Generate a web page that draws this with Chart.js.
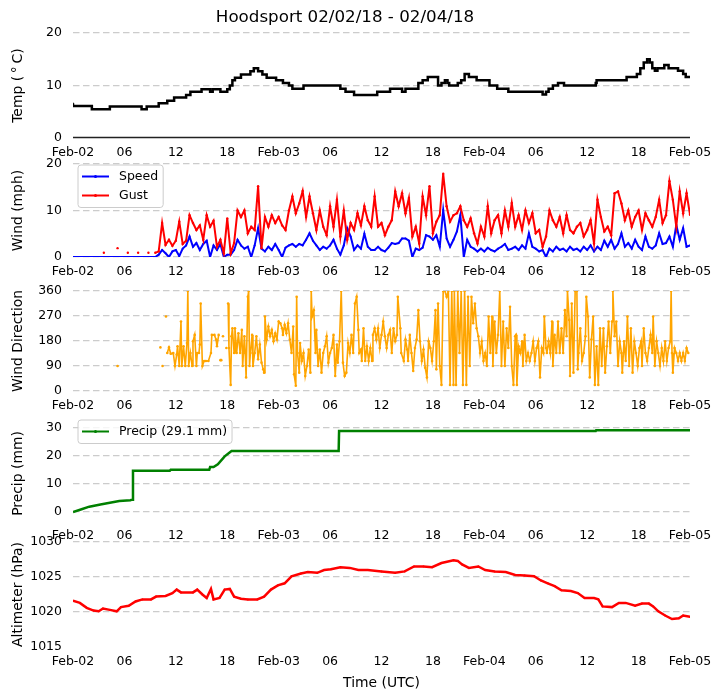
<!DOCTYPE html>
<html>
<head>
<meta charset="utf-8">
<script src="https://cdn.jsdelivr.net/npm/chart.js@4.4.1/dist/chart.umd.min.js"></script>
<style>
  body { margin: 0; background: #fff; }
  #wrap { position: relative; width: 722px; height: 700px; }
  canvas { position: absolute; left: 0; }
</style>
</head>
<body>
<div id="wrap">
  <canvas id="tempChart" width="722" height="162" style="top:0px"></canvas>
  <canvas id="windChart" width="722" height="136" style="top:145px"></canvas>
  <canvas id="dirChart" width="722" height="143" style="top:272px"></canvas>
  <canvas id="precipChart" width="722" height="138" style="top:407px"></canvas>
  <canvas id="presChart" width="722" height="177" style="top:523px"></canvas>
</div>
<script>
// Zeitachse in Stunden ab 02.02. 00 UTC
const hourTicks = [0, 6, 12, 18, 24, 30, 36, 42, 48, 54, 60, 66, 72];
const hourLabels = ['Feb-02', '06', '12', '18', 'Feb-03', '06', '12', '18', 'Feb-04', '06', '12', '18', 'Feb-05'];

// Temperatur (Stufen)
const tempHours = [0, 2.2, 4.3, 8.0, 8.6, 10.0, 11.0, 11.8, 13.2, 13.7,
  15.0, 16.0, 16.3, 17.2, 18.0, 18.3, 18.6, 18.9, 19.6, 20.7,
  21.1, 21.6, 22.1, 22.6, 23.7, 24.5, 25.2, 25.6, 26.9, 31.2,
  31.8, 32.8, 35.5, 37.0, 38.4, 38.8, 40.3, 40.8, 41.4, 42.6,
  43.0, 43.4, 43.7, 43.9, 44.9, 45.3, 45.7, 46.2, 47.1, 48.6,
  49.5, 50.8, 54.8, 55.2, 55.5, 56.0, 56.6, 57.3, 61.0, 61.1,
  64.6, 65.8, 66.2, 66.6, 67.0, 67.3, 67.6, 67.9, 68.2, 69.0,
  69.5, 70.6, 71.2, 71.5, 71.8, 72.0];
const tempC = [6.6, 6.1, 5.5, 6.0, 5.5, 6.0, 6.6, 7.1, 7.7, 8.2,
  8.8, 9.3, 8.8, 9.3, 8.8, 9.3, 10.0, 11.0, 11.5, 12.1,
  12.7, 13.3, 12.7, 12.1, 11.5, 11.0, 10.5, 10.0, 9.4, 10.0,
  9.4, 8.8, 8.2, 8.8, 9.4, 8.8, 9.4, 10.5, 11.0, 11.6,
  10.0, 10.5, 11.0, 10.5, 10.0, 10.5, 11.0, 12.2, 11.6, 11.0,
  10.0, 9.4, 8.8, 8.3, 8.8, 9.4, 10.0, 10.5, 10.0, 10.5,
  11.0, 11.6, 12.2, 13.3, 14.4, 15.0, 14.4, 13.3, 12.8, 13.3,
  13.9, 13.3, 12.8, 12.2, 11.6, 11.6];

// Wind, Messwerte alle 0.4 h
const windStepHours = 0.4;
const windSpeed = [0, 0, 0, 0, 0, 0, 0, 0, 0, 0,
  0, 0, 0, 0, 0, 0, 0, 0, 0, 0,
  0, 0, 0, 0, 0, 0.5, 1.5, 0.8, 0, 1.2,
  1.5, 0.2, 1.8, 2.5, 4.4, 2.2, 3.0, 1.5, 2.8, 3.5,
  0, 2.5, 1.5, 2.8, 0, 0.5, 0.5, 1.5, 3.7, 2.5,
  1.8, 2.2, 0, 2.5, 6.2, 1.8, 1.2, 2.2, 1.5, 2.8,
  1.5, 0, 2.0, 2.5, 2.8, 2.2, 2.8, 2.5, 3.7, 5.1,
  3.5, 2.5, 1.5, 2.2, 1.8, 2.5, 3.7, 1.8, 0.5, 2.5,
  6.2, 4.4, 1.5, 2.5, 1.8, 5.0, 2.2, 1.5, 1.5, 2.2,
  1.5, 1.2, 2.0, 3.0, 2.8, 3.0, 4.0, 4.0, 3.5, 0,
  1.8, 1.5, 2.0, 4.7, 4.4, 3.7, 4.7, 2.2, 10.1, 4.0,
  2.2, 3.7, 5.5, 9.0, 0, 3.7, 2.2, 1.8, 1.2, 1.8,
  1.2, 2.0, 1.5, 1.2, 1.8, 2.2, 2.8, 1.5, 1.8, 2.2,
  1.5, 2.5, 1.8, 5.1, 2.2, 1.8, 1.2, 1.5, 0, 1.8,
  1.2, 2.2, 1.5, 1.8, 1.2, 2.2, 1.5, 1.8, 1.2, 2.2,
  1.5, 2.5, 1.2, 2.2, 1.5, 3.5, 2.2, 3.7, 1.8, 2.8,
  5.1, 2.2, 3.0, 1.8, 3.7, 2.2, 1.5, 4.4, 2.2, 1.8,
  2.5, 5.1, 2.8, 3.0, 4.4, 2.2, 6.9, 3.7, 6.2, 2.2,
  2.5];
const windGust = [null, null, null, null, null, null, null, null, null, 0.9,
  null, null, null, 1.9, null, null, 0.9, null, null, 0.9,
  null, null, 0.9, null, 0.9, 1.2, 7.3, 2.6, 3.7, 2.4,
  3.5, 7.6, 2.8, 3.5, 9.0, 7.3, 5.8, 6.8, 3.7, 9.0,
  6.5, 7.8, 2.2, 3.7, 0.8, 8.3, 0.8, 3.0, 10.0, 8.6,
  10.0, 5.1, 6.5, 5.8, 15.2, 1.9, 8.6, 6.5, 9.0, 7.3,
  8.6, 6.8, 5.8, 10.0, 13.0, 9.4, 11.5, 14.2, 8.6, 13.0,
  9.4, 5.8, 10.0, 6.5, 4.7, 10.9, 6.5, 12.3, 4.4, 10.0,
  3.7, 7.3, 5.8, 9.4, 6.8, 10.9, 7.9, 6.5, 13.0, 6.5,
  7.3, 4.7, 6.5, 7.9, 14.1, 10.9, 13.7, 9.4, 12.7, 4.4,
  6.5, 2.9, 13.0, 9.0, 15.2, 5.1, 7.6, 9.0, 17.9, 10.9,
  7.6, 9.0, 9.4, 10.9, 7.9, 6.5, 8.3, 5.1, 2.9, 6.5,
  4.4, 10.9, 5.1, 7.9, 9.0, 5.1, 10.0, 6.5, 11.6, 6.5,
  9.0, 5.8, 10.0, 7.3, 9.4, 5.1, 5.8, 2.2, 4.4, 10.0,
  7.9, 6.5, 8.6, 5.1, 9.0, 5.8, 5.1, 6.5, 7.3, 4.4,
  5.8, 7.9, 2.9, 12.3, 8.6, 5.5, 6.5, 4.7, 13.7, 14.1,
  11.5, 7.9, 10.0, 6.5, 8.6, 10.0, 5.8, 9.4, 7.9, 6.5,
  8.6, 12.3, 7.3, 9.0, 16.3, 12.3, 6.5, 14.1, 9.4, 13.7,
  9.1];

// Windrichtung (null = Luecke)
const dirHours = [5.2, 5.4, 10.2, 10.3, 10.45, 10.55, 10.85, 10.95, 11.0, 11.2,
  11.4, 11.7, 11.9, 12.1, 12.2, 12.4, 12.6, 12.7, 12.9, 13.1,
  13.3, 13.4, 13.5, 13.7, 13.9, 14.0, 14.2, 14.4, 14.5, 14.7,
  14.8, 14.9, 15.1, 15.3, 15.5, 15.8, 16.1, 16.2, 16.5, 16.7,
  16.8, 17.0, 17.1, 17.2, 17.25, 17.3, 17.4, 17.5, 17.6, 17.9,
  18.0, 18.1, 18.2, 18.4, 18.5, 18.6, 18.8, 18.9, 19.1, 19.3,
  19.5, 19.7, 19.8, 20.0, 20.1, 20.2, 20.4, 20.5, 20.6, 20.7,
  20.9, 21.0, 21.2, 21.4, 21.6, 21.8, 22.0, 22.2, 22.3, 22.4,
  22.6, 22.8, 23.0, 23.2, 23.4, 23.6, 23.8, 24.0, 24.2, 24.4,
  24.5, 24.7, 24.9, 25.1, 25.3, 25.5, 25.7, 25.8, 26.0, 26.1,
  26.2, 26.4, 26.5, 26.7, 26.9, 27.1, 27.3, 27.5, 27.7, 27.8,
  27.9, 28.1, 28.3, 28.4, 28.6, 28.8, 29.0, 29.2, 29.4, 29.6,
  29.8, 30.0, 30.2, 30.4, 30.6, 30.8, 30.9, 31.1, 31.3, 31.5,
  31.7, 31.9, 32.1, 32.3, 32.5, 32.7, 32.9, 33.1, 33.3, 33.4,
  33.6, 33.7, 33.9, 34.1, 34.3, 34.5, 34.7, 34.9, 35.0, 35.2,
  35.4, 35.6, 35.8, 36.0, 36.2, 36.4, 36.6, 36.8, 37.0, 37.2,
  37.4, 37.6, 37.8, 37.9, 38.2, 38.3, 38.6, 38.8, 39.0, 39.1,
  39.3, 39.5, 39.7, 39.9, 40.1, 40.3, 40.5, 40.7, 40.9, 41.1,
  41.3, 41.5, 41.7, 41.9, 42.1, 42.3, 42.4, 42.6, 42.8, 43.0,
  43.2, 43.4, 43.6, 43.8, 44.0, 44.2, 44.4, 44.5, 44.7, 44.9,
  45.1, 45.3, 45.5, 45.7, 45.9, 46.1, 46.3, 46.5, 46.7, 46.9,
  47.1, 47.3, 47.5, 47.7, 47.9, 48.1, 48.3, 48.5, 48.7, 48.9,
  49.0, 49.2, 49.4, 49.6, 49.8, 50.0, 50.2, 50.4, 50.6, 50.8,
  51.0, 51.2, 51.4, 51.6, 51.7, 51.8, 52.0, 52.2, 52.4, 52.5,
  52.7, 52.9, 53.1, 53.3, 53.5, 53.7, 53.9, 54.1, 54.3, 54.5,
  54.7, 54.9, 55.0, 55.2, 55.3, 55.5, 55.7, 55.9, 56.0, 56.2,
  56.4, 56.6, 56.8, 57.0, 57.2, 57.4, 57.6, 57.7, 57.9, 58.0,
  58.2, 58.4, 58.6, 58.8, 58.9, 59.0, 59.2, 59.4, 59.6, 59.8,
  59.9, 60.1, 60.3, 60.5, 60.7, 60.9, 61.1, 61.3, 61.5, 61.7,
  61.9, 62.1, 62.3, 62.5, 62.7, 62.9, 63.0, 63.2, 63.4, 63.6,
  63.8, 64.0, 64.1, 64.3, 64.5, 64.7, 64.9, 65.1, 65.3, 65.5,
  65.7, 65.9, 66.1, 66.3, 66.4, 66.6, 66.8, 67.0, 67.2, 67.4,
  67.6, 67.7, 67.9, 68.1, 68.3, 68.5, 68.7, 68.9, 69.1, 69.3,
  69.5, 69.7, 69.8, 69.9, 70.0, 70.2, 70.4, 70.6, 70.8, 71.0,
  71.2, 71.4, 71.6, 71.8];
const dirDeg = [90, null, 157, null, 90, null, 268, null, 137, 157,
  134, 137, 90, 131, 161, 90, 250, 90, 161, 90,
  173, 360, 90, 137, 90, 179, 202, 90, 137, 137,
  167, 315, 90, 108, 108, 108, 137, 202, 202, 185,
  161, 202, null, 111, null, 111, null, 197, null, 155,
  null, 315, 155, 22, 197, 226, 137, 226, 137, 208,
  137, 220, 90, 197, 137, 49, 339, 360, 90, 137,
  202, 90, 137, 197, 114, 167, 102, 78, 66, 268,
  185, 232, 197, 220, 179, 208, 185, 250, 244, 226,
  202, 238, 208, 244, 185, 137, 232, 60, 19, 339,
  137, 66, 173, 108, 137, 54, 90, 149, 66, 360,
  268, 291, 137, 220, 90, 149, 66, 137, 161, 197,
  102, 137, 155, 202, 54, 167, 102, 179, 360, 102,
  54, 66, 173, 137, 202, 137, 315, 339, 220, 137,
  149, 108, 226, 108, 161, 108, 155, 108, 202, 226,
  185, 226, 155, 202, 250, 197, 155, 202, 220, 137,
  226, 179, 202, 339, 226, 137, 108, 185, 149, 108,
  202, 137, 72, 155, 185, 291, 179, 108, 149, 84,
  49, 179, 155, 108, 179, 291, 78, 315, 90, 22,
  360, 360, 339, 360, 22, 360, 22, 360, 22, 360,
  137, 360, 22, 360, 22, 339, 90, 339, 244, 315,
  226, 197, 137, 179, 108, 137, 90, 268, 137, 268,
  90, 250, 137, 202, 360, 90, 250, 90, 226, 155,
  303, 90, 22, 197, 202, 22, 161, 137, 179, 90,
  202, 108, 137, 108, 137, 179, 108, 155, 179, 49,
  155, 137, 268, 155, 137, 179, 137, 250, 90, 202,
  137, 250, 137, 226, 137, 291, 197, 360, 256, 54,
  315, 66, 360, 360, 78, 137, 226, 108, 137, 197,
  339, 268, 49, 185, 268, 22, 161, 22, 226, 90,
  226, 66, 161, 250, 137, 250, 360, 197, 250, 90,
  179, 137, 66, 179, 108, 268, 90, 226, 66, 179,
  137, 90, 155, 179, 90, 226, 137, 108, 155, 202,
  137, 268, 90, 179, 137, 90, 155, 108, 179, 108,
  155, 179, 360, 137, 66, 155, 137, 108, 137, 108,
  137, 108, 155, 137];

// Niederschlag (kumuliert)
const precipHours = [0, 1.0, 1.9, 3.2, 4.3, 5.4, 6.7, 6.9, 7.0, 11.3, 11.4,
  15.9, 16.0, 16.4, 16.9, 17.7, 18.5, 31.0, 31.05, 61.0, 61.05, 72];
const precipMm = [0, 1.0, 1.9, 2.7, 3.3, 3.9, 4.2, 4.4, 14.7, 14.7, 15.0,
  15.0, 16.0, 16.0, 17.0, 19.8, 21.7, 21.7, 28.8, 28.8, 29.1, 29.1];

// Luftdruck
const presHours = [0, 0.8, 1.6, 2.4, 3.0, 3.5, 4.3, 5.1, 5.6, 6.5,
  7.3, 8.1, 9.1, 9.7, 10.8, 11.6, 12.1, 12.6, 14.0, 14.5,
  15.1, 15.6, 16.1, 16.4, 17.1, 17.7, 18.3, 18.8, 19.6, 20.4,
  21.5, 22.3, 23.1, 23.9, 24.7, 25.5, 26.6, 27.4, 28.5, 29.3,
  30.1, 31.2, 32.3, 33.3, 34.4, 36.0, 37.6, 38.7, 39.8, 40.9,
  41.9, 43.0, 44.4, 44.9, 45.4, 46.2, 47.3, 48.1, 49.2, 50.5,
  51.6, 52.7, 53.8, 54.6, 55.4, 56.2, 57.0, 58.1, 58.9, 59.7,
  60.8, 61.3, 61.8, 62.9, 63.7, 64.5, 65.6, 66.4, 67.2, 67.7,
  68.3, 69.1, 69.9, 70.7, 71.2, 72];
const presHpa = [1021.6, 1021.3, 1020.6, 1020.2, 1020.1, 1020.5, 1020.3, 1020.1, 1020.7, 1020.9,
  1021.5, 1021.8, 1021.8, 1022.2, 1022.3, 1022.7, 1023.2, 1022.8, 1022.8, 1023.2,
  1022.5, 1022.0, 1023.3, 1021.8, 1022.0, 1023.2, 1023.3, 1022.2, 1021.9, 1021.8,
  1021.8, 1022.2, 1023.2, 1023.8, 1024.1, 1025.1, 1025.5, 1025.7, 1025.6, 1026.0,
  1026.1, 1026.4, 1026.3, 1026.0, 1026.0, 1025.8, 1025.6, 1025.8, 1026.5, 1026.5,
  1026.4, 1027.0, 1027.4, 1027.3, 1026.8, 1026.3, 1026.5, 1026.0, 1025.8, 1025.7,
  1025.3, 1025.2, 1025.1, 1024.5, 1024.1, 1023.7, 1023.1, 1023.0, 1022.7, 1022.0,
  1022.0, 1021.8, 1020.8, 1020.7, 1021.3, 1021.3, 1020.9, 1021.2, 1021.2, 1020.8,
  1020.1, 1019.5, 1019.0, 1019.1, 1019.5, 1019.3];

// y-Ticks
const tempTicks = [0, 10, 20];
const windTicks = [0, 10, 20];
const dirTicks = [0, 90, 180, 270, 360];
const precipTicks = [0, 10, 20, 30];
const presTicks = [1015, 1020, 1025, 1030];

const family = '"DejaVu Sans", sans-serif';
const gridGray = '#cccccc';
const gridDash = [6.5, 3.5];

function pts(xs, ys) {
  return xs.map((x, i) => ({ x: x, y: ys[i] }));
}
function windPts(ys) {
  return ys.map((y, i) => ({ x: i * windStepHours, y: y }));
}

// Legende als Kasten oben links im Plot
const boxLegend = {
  id: 'boxLegend',
  afterDatasetsDraw(chart, args, opts) {
    if (!opts || !opts.display) return;
    const ctx = chart.ctx;
    const area = chart.chartArea;
    ctx.save();
    ctx.font = '12.5px ' + family;
    const sets = chart.data.datasets;
    const textW = Math.max(...sets.map(d => ctx.measureText(d.label).width));
    const x0 = area.left + opts.dx;
    const y0 = area.top + opts.dy;
    const w = 41 + textW + 5;
    const h = sets.length * 19 + 4.5;
    ctx.beginPath();
    ctx.roundRect(x0, y0, w, h, 3);
    ctx.fillStyle = 'rgba(255,255,255,0.8)';
    ctx.fill();
    ctx.strokeStyle = '#cccccc';
    ctx.lineWidth = 1;
    ctx.stroke();
    sets.forEach((d, i) => {
      const cy = y0 + 11.5 + i * 19;
      ctx.strokeStyle = d.borderColor;
      ctx.lineWidth = 2;
      ctx.beginPath();
      ctx.moveTo(x0 + 4, cy);
      ctx.lineTo(x0 + 31, cy);
      ctx.stroke();
      ctx.fillStyle = d.borderColor;
      ctx.beginPath();
      ctx.arc(x0 + 17.5, cy, 1.5, 0, Math.PI * 2);
      ctx.fill();
      ctx.fillStyle = '#000';
      ctx.textBaseline = 'middle';
      ctx.fillText(d.label, x0 + 41, cy);
    });
    ctx.restore();
  }
};

// durchgezogene Linie bei y = 0 (Temperatur)
const zeroLine = {
  id: 'zeroLine',
  afterDraw(chart) {
    if (chart.canvas.id !== 'tempChart') return;
    const ctx = chart.ctx;
    const area = chart.chartArea;
    const y = Math.round(chart.scales.y.getPixelForValue(0)) - 0.5;
    ctx.save();
    ctx.strokeStyle = '#222222';
    ctx.lineWidth = 1.3;
    ctx.setLineDash([]);
    ctx.beginPath();
    ctx.moveTo(area.left, y);
    ctx.lineTo(area.right, y);
    ctx.stroke();
    ctx.restore();
  }
};
Chart.register(boxLegend, zeroLine);

function xScale(last) {
  return {
    type: 'linear', min: 0, max: 72,
    grid: { display: false, drawTicks: false },
    border: { display: false },
    afterBuildTicks: s => { s.ticks = hourTicks.map(v => ({ value: v })); },
    ticks: {
      autoSkip: false, maxRotation: 0, padding: 7, color: '#000',
      font: { family: family, size: 12.5 },
      callback: (v, i) => hourLabels[i]
    },
    title: {
      display: last, text: 'Time (UTC)', color: '#000',
      font: { family: family, size: 13.9 }, padding: { top: 4, bottom: 8.7 }
    },
    afterFit: s => { s.height = last ? 53 : 24; }
  };
}

function yScale(min, max, ticks, title, gridColor) {
  return {
    min: min, max: max,
    afterBuildTicks: s => { s.ticks = ticks.map(v => ({ value: v })); },
    grid: { color: gridColor || gridGray, lineWidth: 1.2, drawTicks: false },
    border: { display: false, dash: gridDash },
    ticks: {
      padding: 11, color: '#000', font: { family: family, size: 12.5 },
      callback: v => String(v)
    },
    title: {
      display: true, text: title, color: '#000',
      font: { family: family, size: 13.9 }, padding: { top: 10, bottom: 0 }
    },
    afterFit: s => { s.width = 73; }
  };
}

function panel(id, datasets, y, extra) {
  extra = extra || {};
  const plugins = {
    legend: { display: false },
    tooltip: { enabled: false },
    title: extra.title || { display: false },
    boxLegend: extra.legend || { display: false }
  };
  new Chart(document.getElementById(id).getContext('2d'), {
    type: 'line',
    data: { datasets: datasets },
    options: {
      responsive: false,
      animation: false,
      events: [],
      layout: { padding: { left: 0, right: 32, top: extra.title ? 0 : 19, bottom: 0 } },
      scales: { x: xScale(!!extra.last), y: y },
      plugins: plugins
    }
  });
}

// Temperatur
panel('tempChart', [{
  label: 'Temp',
  data: pts(tempHours, tempC),
  borderColor: '#000', backgroundColor: '#000',
  borderWidth: 2.5, pointRadius: 0.8, pointBorderWidth: 0, stepped: 'after'
}], yScale(0, 20, tempTicks, 'Temp (\u2009\u00b0\u2009C)',
  c => (c.tick && c.tick.value === 0) ? 'rgba(0,0,0,0)' : gridGray), {
  title: {
    display: true, text: 'Hoodsport 02/02/18 - 02/04/18', color: '#000',
    font: { family: family, size: 16.7, weight: 'normal' },
    padding: { top: 8, bottom: 5 }
  }
});

// Wind
panel('windChart', [{
  label: 'Speed', data: windPts(windSpeed),
  borderColor: '#0000ff', backgroundColor: '#0000ff',
  borderWidth: 2, pointRadius: 1, pointBorderWidth: 0, order: 1
}, {
  label: 'Gust', data: windPts(windGust),
  borderColor: '#ff0000', backgroundColor: '#ff0000',
  borderWidth: 2, pointRadius: 1.2, pointBorderWidth: 0, order: 0
}], yScale(0, 20, windTicks, 'Wind (mph)'), {
  legend: { display: true, dx: 5, dy: 1 }
});

// Windrichtung
panel('dirChart', [{
  label: 'Direction', data: pts(dirHours, dirDeg),
  borderColor: '#ffa500', backgroundColor: '#ffa500',
  borderWidth: 1.6, pointRadius: 1.3, pointBorderWidth: 0
}], yScale(0, 360, dirTicks, 'Wind Direction'));

// Niederschlag
panel('precipChart', [{
  label: 'Precip (29.1 mm)', data: pts(precipHours, precipMm),
  borderColor: '#008000', backgroundColor: '#008000',
  borderWidth: 2.5, pointRadius: 0
}], yScale(-3.2, 30.6, precipTicks, 'Precip (mm)'), {
  legend: { display: true, dx: 5, dy: -6 }
});

// Luftdruck
panel('presChart', [{
  label: 'Altimeter', data: pts(presHours, presHpa),
  borderColor: '#ff0000', backgroundColor: '#ff0000',
  borderWidth: 2.5, pointRadius: 1, pointBorderWidth: 0
}], yScale(1015, 1030, presTicks, 'Altimeter (hPa)',
  c => (c.tick && c.tick.value === 1015) ? 'rgba(0,0,0,0)' : gridGray), {
  last: true
});
</script>
</body>
</html>
